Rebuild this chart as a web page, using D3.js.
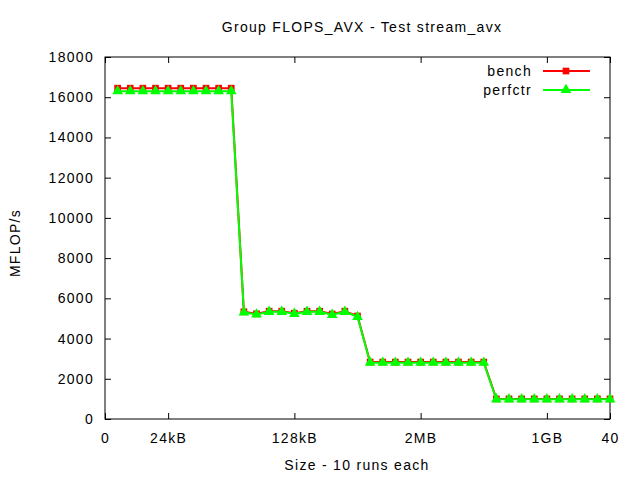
<!DOCTYPE html>
<html><head><meta charset="utf-8">
<script src="https://cdn.jsdelivr.net/npm/d3@7"></script>
<style>body{margin:0;background:#fff}svg{display:block}text{font-family:"Liberation Sans",Arial,sans-serif;fill:#000}</style>
</head><body><svg id="c" width="640" height="480"></svg>
<script>
const xs = d3.range(1, 41);
const bench = [16450,16450,16450,16450,16450,16450,16450,16450,16450,16450,
  5330,5230,5360,5360,5260,5360,5360,5220,5360,5120,
  2830,2830,2830,2830,2830,2830,2830,2830,2830,2830,
  1000,1000,1000,1000,1000,1000,1000,1000,1000,1000];
const perfctr = [16300,16300,16300,16300,16300,16300,16300,16300,16300,16300,
  5300,5200,5330,5330,5230,5330,5330,5180,5330,5080,
  2800,2800,2800,2800,2800,2800,2800,2800,2800,2800,
  980,980,980,980,980,980,980,980,980,980];
const xTickVals = [0,5,15,25,35,40];
const xTickLabels = ["0","24kB","128kB","2MB","1GB","40"];
const yTickVals = d3.range(0, 18001, 2000);
const series = [{name:"bench", values:bench, color:"#ff0000", sym:d3.symbolSquare, size:45},
                {name:"perfctr", values:perfctr, color:"#00ff00", sym:d3.symbolTriangle, size:50}];

const svg = d3.select("#c");
const L=105, R=610, T=57, B=419;
const x = d3.scaleLinear().domain([0,40]).range([L,R]);
const y = d3.scaleLinear().domain([0,18000]).range([B,T]);

const fs = "14px", ls = "1.3px";
const xa = svg.append("g").attr("transform",`translate(0,${B})`)
  .call(d3.axisBottom(x).tickValues(xTickVals).tickFormat((d,i)=>xTickLabels[i]).tickSizeInner(-6).tickSizeOuter(0).tickPadding(14));
const xt = svg.append("g").attr("transform",`translate(0,${T})`)
  .call(d3.axisTop(x).tickValues(xTickVals).tickFormat("").tickSizeInner(-6).tickSizeOuter(0));
const ya = svg.append("g").attr("transform",`translate(${L},0)`)
  .call(d3.axisLeft(y).tickValues(yTickVals).tickFormat(d3.format("d")).tickSizeInner(-6).tickSizeOuter(0).tickPadding(11));
const yr = svg.append("g").attr("transform",`translate(${R},0)`)
  .call(d3.axisRight(y).tickValues(yTickVals).tickFormat("").tickSizeInner(-6).tickSizeOuter(0));
[xa,xt,ya,yr].forEach(g=>{g.select(".domain").remove();g.selectAll("line").attr("stroke","#000");
  g.selectAll("text").style("font-size",fs).style("letter-spacing",ls).style("font-family","'Liberation Sans',Arial,sans-serif");});
svg.append("rect").attr("x",L).attr("y",T).attr("width",R-L).attr("height",B-T).attr("fill","none").attr("stroke","#000");

const line = d3.line().x((d,i)=>x(xs[i])).y(d=>y(d));
series.forEach(s=>{
  svg.append("path").datum(s.values).attr("d",line).attr("fill","none").attr("stroke",s.color).attr("stroke-width",2);
  svg.append("g").selectAll("path").data(s.values).join("path")
    .attr("transform",(d,i)=>`translate(${x(xs[i])},${y(d)})`)
    .attr("d",d3.symbol().type(s.sym).size(s.size)).attr("fill",s.color);
});

series.forEach((s,i)=>{
  const ly = 71 + i*19;
  svg.append("text").attr("x",532).attr("y",ly).attr("dy","0.35em").attr("text-anchor","end").style("font-size",fs).style("letter-spacing",ls).text(s.name);
  svg.append("line").attr("x1",543).attr("x2",590).attr("y1",ly).attr("y2",ly).attr("stroke",s.color).attr("stroke-width",2);
  svg.append("path").attr("transform",`translate(566,${ly})`).attr("d",d3.symbol().type(s.sym).size(s.size)).attr("fill",s.color);
});

svg.append("text").attr("x",362).attr("y",27).attr("dy","0.35em").attr("text-anchor","middle").style("font-size",fs).style("letter-spacing",ls).text("Group FLOPS_AVX - Test stream_avx");
svg.append("text").attr("x",357).attr("y",465).attr("dy","0.35em").attr("text-anchor","middle").style("font-size",fs).style("letter-spacing",ls).text("Size - 10 runs each");
svg.append("text").attr("transform","translate(15,243) rotate(-90)").attr("dy","0.35em").attr("text-anchor","middle").style("font-size",fs).style("letter-spacing",ls).text("MFLOP/s");
</script></body></html>
